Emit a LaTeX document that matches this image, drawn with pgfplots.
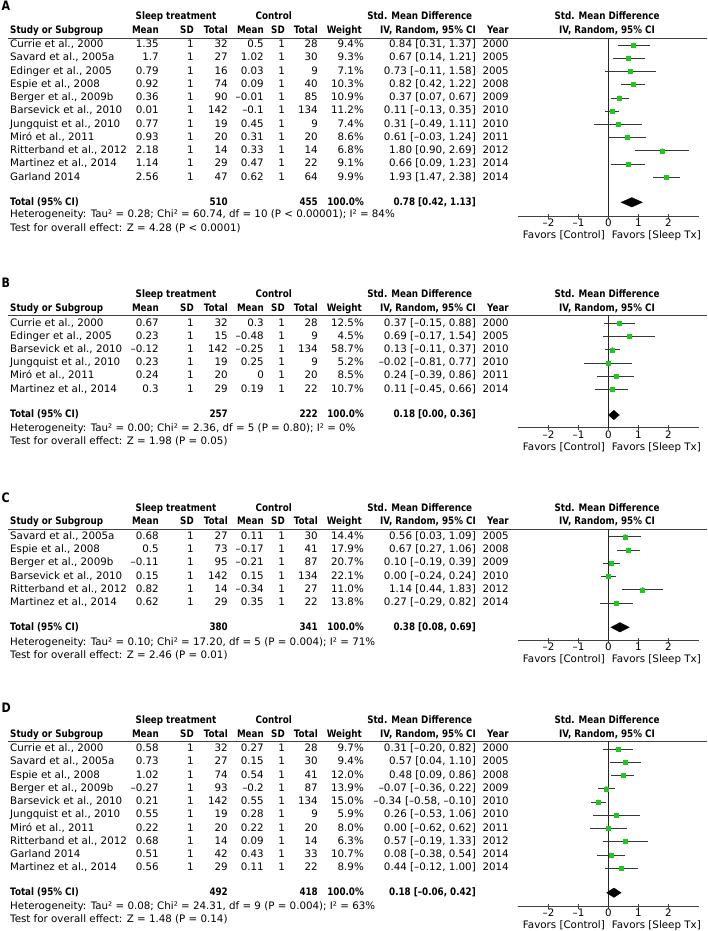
\documentclass[border=0pt]{standalone}
\usepackage{pgfplots}
\pgfplotsset{compat=1.18}
\usepackage{pgfplotstable}
\usepackage{fontspec}
\setmainfont{DejaVu Sans}[BoldFeatures={FakeStretch=0.85}]
\definecolor{sqgreen}{RGB}{30,200,30}
\definecolor{cigray}{RGB}{55,55,55}
\newcommand{\fs}{\fontsize{10.3}{12}\selectfont}

% y = row position (px from top), est, lo, hi, weight
\pgfplotstableread{
y est lo hi w
45.0 0.84 0.31 1.37 9.4
58.2 0.67 0.14 1.21 9.3
71.5 0.73 -0.11 1.58 7.1
84.7 0.82 0.42 1.22 10.3
97.9 0.37 0.07 0.67 10.9
111.2 0.11 -0.13 0.35 11.2
124.4 0.31 -0.49 1.11 7.4
137.6 0.61 -0.03 1.24 8.6
150.8 1.80 0.90 2.69 6.8
164.1 0.66 0.09 1.23 9.1
177.3 1.93 1.47 2.38 9.9
}\dataA
\pgfplotstableread{
y est lo hi w
323.3 0.37 -0.15 0.88 12.5
336.5 0.69 -0.17 1.54 4.5
349.8 0.13 -0.11 0.37 58.7
363.0 -0.02 -0.81 0.77 5.2
376.2 0.24 -0.39 0.86 8.5
389.5 0.11 -0.45 0.66 10.7
}\dataB
\pgfplotstableread{
y est lo hi w
536.7 0.56 0.03 1.09 14.4
550.0 0.67 0.27 1.06 17.9
563.2 0.10 -0.19 0.39 20.7
576.5 0.00 -0.24 0.24 22.1
589.7 1.14 0.44 1.83 11.0
603.0 0.27 -0.29 0.82 13.8
}\dataC
\pgfplotstableread{
y est lo hi w
749.0 0.31 -0.20 0.82 9.7
762.2 0.57 0.04 1.10 9.4
775.5 0.48 0.09 0.86 12.0
788.7 -0.07 -0.36 0.22 13.9
801.9 -0.34 -0.58 -0.10 15.0
815.2 0.26 -0.53 1.06 5.9
828.4 0.00 -0.62 0.62 8.0
841.6 0.57 -0.19 1.33 6.3
854.9 0.08 -0.38 0.54 10.7
868.1 0.44 -0.12 1.00 8.9
}\dataD

\newcommand{\trow}[9]{%
  \node[anchor=mid west] at (10,#1) {#2};
  \node[anchor=mid east] at (159,#1) {#3};
  \node[anchor=mid east] at (194,#1) {1};
  \node[anchor=mid east] at (228,#1) {#4};
  \node[anchor=mid east] at (264,#1) {#5};
  \node[anchor=mid east] at (285,#1) {1};
  \node[anchor=mid east] at (318,#1) {#6};
  \node[anchor=mid east] at (364,#1) {#7};
  \node[anchor=mid east] at (476,#1) {#8};
  \node[anchor=mid east] at (509,#1) {#9};
}
% #1 letter, #2 letter y, #3 header1 y, #4 header2 y, #5 rule y
\newcommand{\thead}[5]{%
  \node[anchor=mid west, font=\fontsize{13}{15}\selectfont\bfseries] at (1.5,#2) {#1};
  \node[anchor=mid, font=\fs\bfseries] at (176,#3) {Sleep treatment};
  \node[anchor=mid, font=\fs\bfseries] at (273.7,#3) {Control};
  \node[anchor=mid, font=\fs\bfseries] at (419.7,#3) {Std. Mean Difference};
  \node[anchor=mid, font=\fs\bfseries] at (607,#3) {Std. Mean Difference};
  \node[anchor=mid west, font=\fs\bfseries] at (10,#4) {Study or Subgroup};
  \node[anchor=mid east, font=\fs\bfseries] at (159,#4) {Mean};
  \node[anchor=mid east, font=\fs\bfseries] at (194,#4) {SD};
  \node[anchor=mid east, font=\fs\bfseries] at (228,#4) {Total};
  \node[anchor=mid east, font=\fs\bfseries] at (264,#4) {Mean};
  \node[anchor=mid east, font=\fs\bfseries] at (285,#4) {SD};
  \node[anchor=mid east, font=\fs\bfseries] at (318,#4) {Total};
  \node[anchor=mid east, font=\fs\bfseries] at (362,#4) {Weight};
  \node[anchor=mid east, font=\fs\bfseries] at (476,#4) {IV, Random, 95\% CI};
  \node[anchor=mid east, font=\fs\bfseries] at (509,#4) {Year};
  \node[anchor=mid, font=\fs\bfseries] at (607,#4) {IV, Random, 95\% CI};
  \draw[black!75, line width=0.8pt] (8,#5) -- (707,#5);
}
% #1 total y, #2 n1, #3 n2, #4 ci
\newcommand{\ttotal}[4]{%
  \node[anchor=mid west, font=\fs\bfseries] at (10,#1) {Total (95\% CI)};
  \node[anchor=mid east, font=\fs\bfseries] at (228,#1) {#2};
  \node[anchor=mid east, font=\fs\bfseries] at (318,#1) {#3};
  \node[anchor=mid east, font=\fs\bfseries] at (364,#1) {100.0\%};
  \node[anchor=mid east, font=\fs\bfseries] at (476,#1) {#4};
}
\newcommand{\favors}[1]{%
  \node[anchor=mid east] at (605,#1) {Favors [Control]};
  \node[anchor=mid west] at (611.7,#1) {Favors [Sleep Tx]};
}

\pgfplotsset{forest/.style={
  scale only axis, width=181.6pt, anchor=north west, clip=false,
  xmin=-3.03, xmax=3.03,
  axis x line*=bottom, axis y line=none,
  xtick={-2,-1,0,1,2}, xticklabels={–2,–1,0,1,2},
  xtick align=center, major tick length=5pt,
  tick style={black!75, line width=0.6pt},
  axis line style={black!75, line width=0.7pt},
  xticklabel style={font=\fs, inner sep=0pt, anchor=mid, yshift=-5.5pt},
}}
% #1 table, #2 top px, #3 axis px
\newcommand{\forestplots}[3]{%
  \addplot[black!85, line width=0.6pt] coordinates {(0,-#2) (0,-#3)};
  \addplot[cigray, only marks, mark=none,
    error bars/.cd, x dir=both, x explicit, error mark=none,
    error bar style={cigray, line width=0.7pt}]
    table[x=est, y expr=-\thisrow{y},
      x error plus expr=\thisrow{hi}-\thisrow{est},
      x error minus expr=\thisrow{est}-\thisrow{lo}] {#1};
  \addplot[scatter, only marks, mark=square*,
    visualization depends on={0.17*(\thisrow{w})^0.776 \as \msz},
    scatter/@pre marker code/.append style={/tikz/mark size=\msz},
    scatter/use mapped color={draw=sqgreen, fill=sqgreen}]
    table[x=est, y expr=-\thisrow{y}] {#1};
}

\begin{document}
\begin{tikzpicture}[x=1pt, y=-1pt, every node/.style={inner sep=0pt, font=\fs}]
\useasboundingbox (0,0) rectangle (707,931);

%%%%%%%%%%%%%%%% A
\thead{A}{8}{17}{31}{38}
\trow{45.0}{Currie et al., 2000}{1.35}{32}{0.5}{28}{9.4\%}{0.84 [0.31, 1.37]}{2000}
\trow{58.2}{Savard et al., 2005a}{1.7}{27}{1.02}{30}{9.3\%}{0.67 [0.14, 1.21]}{2005}
\trow{71.5}{Edinger et al., 2005}{0.79}{16}{0.03}{9}{7.1\%}{0.73 [–0.11, 1.58]}{2005}
\trow{84.7}{Espie et al., 2008}{0.92}{74}{0.09}{40}{10.3\%}{0.82 [0.42, 1.22]}{2008}
\trow{97.9}{Berger et al., 2009b}{0.36}{90}{–0.01}{85}{10.9\%}{0.37 [0.07, 0.67]}{2009}
\trow{111.2}{Barsevick et al., 2010}{0.01}{142}{–0.1}{134}{11.2\%}{0.11 [–0.13, 0.35]}{2010}
\trow{124.4}{Jungquist et al., 2010}{0.77}{19}{0.45}{9}{7.4\%}{0.31 [–0.49, 1.11]}{2010}
\trow{137.6}{Miró et al., 2011}{0.93}{20}{0.31}{20}{8.6\%}{0.61 [–0.03, 1.24]}{2011}
\trow{150.8}{Ritterband et al., 2012}{2.18}{14}{0.33}{14}{6.8\%}{1.80 [0.90, 2.69]}{2012}
\trow{164.1}{Martinez et al., 2014}{1.14}{29}{0.47}{22}{9.1\%}{0.66 [0.09, 1.23]}{2014}
\trow{177.3}{Garland 2014}{2.56}{47}{0.62}{64}{9.9\%}{1.93 [1.47, 2.38]}{2014}
\ttotal{202.3}{510}{455}{0.78 [0.42, 1.13]}
\node[anchor=mid west] at (10,215) {Heterogeneity: Tau² = 0.28; Chi² = 60.74, df = 10 (P < 0.00001); I² = 84\%};
\node[anchor=mid west] at (10,228.5) {Test for overall effect: Z = 4.28 (P < 0.0001)};
\favors{235.5}
\begin{axis}[forest, at={(517.7pt,-38pt)}, height=178pt, ymin=-216, ymax=-38]
\forestplots{\dataA}{38}{216}
\addplot[fill=black, draw=black] coordinates {(0.42,-202.3) (0.78,-197.6) (1.13,-202.3) (0.78,-207.0)} -- cycle;
\end{axis}

%%%%%%%%%%%%%%%% B
\thead{B}{285}{295}{308.3}{315}
\trow{323.3}{Currie et al., 2000}{0.67}{32}{0.3}{28}{12.5\%}{0.37 [–0.15, 0.88]}{2000}
\trow{336.5}{Edinger et al., 2005}{0.23}{15}{–0.48}{9}{4.5\%}{0.69 [–0.17, 1.54]}{2005}
\trow{349.8}{Barsevick et al., 2010}{–0.12}{142}{–0.25}{134}{58.7\%}{0.13 [–0.11, 0.37]}{2010}
\trow{363.0}{Jungquist et al., 2010}{0.23}{19}{0.25}{9}{5.2\%}{–0.02 [–0.81, 0.77]}{2010}
\trow{376.2}{Miró et al., 2011}{0.24}{20}{0}{20}{8.5\%}{0.24 [–0.39, 0.86]}{2011}
\trow{389.5}{Martinez et al., 2014}{0.3}{29}{0.19}{22}{10.7\%}{0.11 [–0.45, 0.66]}{2014}
\ttotal{415}{257}{222}{0.18 [0.00, 0.36]}
\node[anchor=mid west] at (10,428.3) {Heterogeneity: Tau² = 0.00; Chi² = 2.36, df = 5 (P = 0.80); I² = 0\%};
\node[anchor=mid west] at (10,441.7) {Test for overall effect: Z = 1.98 (P = 0.05)};
\favors{447.7}
\begin{axis}[forest, at={(517.7pt,-315pt)}, height=112.7pt, ymin=-427.7, ymax=-315]
\forestplots{\dataB}{315}{427.7}
\addplot[fill=black, draw=black] coordinates {(0.00,-415) (0.18,-410.3) (0.36,-415) (0.18,-419.7)} -- cycle;
\end{axis}

%%%%%%%%%%%%%%%% C
\thead{C}{500}{508.3}{521.7}{529}
\trow{536.7}{Savard et al., 2005a}{0.68}{27}{0.11}{30}{14.4\%}{0.56 [0.03, 1.09]}{2005}
\trow{550.0}{Espie et al., 2008}{0.5}{73}{–0.17}{41}{17.9\%}{0.67 [0.27, 1.06]}{2008}
\trow{563.2}{Berger et al., 2009b}{–0.11}{95}{–0.21}{87}{20.7\%}{0.10 [–0.19, 0.39]}{2009}
\trow{576.5}{Barsevick et al., 2010}{0.15}{142}{0.15}{134}{22.1\%}{0.00 [–0.24, 0.24]}{2010}
\trow{589.7}{Ritterband et al., 2012}{0.82}{14}{–0.34}{27}{11.0\%}{1.14 [0.44, 1.83]}{2012}
\trow{603.0}{Martinez et al., 2014}{0.62}{29}{0.35}{22}{13.8\%}{0.27 [–0.29, 0.82]}{2014}
\ttotal{627.3}{380}{341}{0.38 [0.08, 0.69]}
\node[anchor=mid west] at (10,642.3) {Heterogeneity: Tau² = 0.10; Chi² = 17.20, df = 5 (P = 0.004); I² = 71\%};
\node[anchor=mid west] at (10,656) {Test for overall effect: Z = 2.46 (P = 0.01)};
\favors{659.3}
\begin{axis}[forest, at={(517.7pt,-529pt)}, height=111pt, ymin=-640, ymax=-529]
\forestplots{\dataC}{529}{640}
\addplot[fill=black, draw=black] coordinates {(0.08,-627.3) (0.38,-622.6) (0.69,-627.3) (0.38,-632.0)} -- cycle;
\end{axis}

%%%%%%%%%%%%%%%% D
\thead{D}{709.3}{721}{734.3}{741}
\trow{749.0}{Currie et al., 2000}{0.58}{32}{0.27}{28}{9.7\%}{0.31 [–0.20, 0.82]}{2000}
\trow{762.2}{Savard et al., 2005a}{0.73}{27}{0.15}{30}{9.4\%}{0.57 [0.04, 1.10]}{2005}
\trow{775.5}{Espie et al., 2008}{1.02}{74}{0.54}{41}{12.0\%}{0.48 [0.09, 0.86]}{2008}
\trow{788.7}{Berger et al., 2009b}{–0.27}{93}{–0.2}{87}{13.9\%}{–0.07 [–0.36, 0.22]}{2009}
\trow{801.9}{Barsevick et al., 2010}{0.21}{142}{0.55}{134}{15.0\%}{–0.34 [–0.58, –0.10]}{2010}
\trow{815.2}{Jungquist et al., 2010}{0.55}{19}{0.28}{9}{5.9\%}{0.26 [–0.53, 1.06]}{2010}
\trow{828.4}{Miró et al., 2011}{0.22}{20}{0.22}{20}{8.0\%}{0.00 [–0.62, 0.62]}{2011}
\trow{841.6}{Ritterband et al., 2012}{0.68}{14}{0.09}{14}{6.3\%}{0.57 [–0.19, 1.33]}{2012}
\trow{854.9}{Garland 2014}{0.51}{42}{0.43}{33}{10.7\%}{0.08 [–0.38, 0.54]}{2014}
\trow{868.1}{Martinez et al., 2014}{0.56}{29}{0.11}{22}{8.9\%}{0.44 [–0.12, 1.00]}{2014}
\ttotal{892.7}{492}{418}{0.18 [–0.06, 0.42]}
\node[anchor=mid west] at (10,906.7) {Heterogeneity: Tau² = 0.08; Chi² = 24.31, df = 9 (P = 0.004); I² = 63\%};
\node[anchor=mid west] at (10,920) {Test for overall effect: Z = 1.48 (P = 0.14)};
\favors{926}
\begin{axis}[forest, at={(517.7pt,-741pt)}, height=165pt, ymin=-906, ymax=-741]
\forestplots{\dataD}{741}{906}
\addplot[fill=black, draw=black] coordinates {(-0.06,-892.7) (0.18,-888.0) (0.42,-892.7) (0.18,-897.4)} -- cycle;
\end{axis}
\end{tikzpicture}
\end{document}
